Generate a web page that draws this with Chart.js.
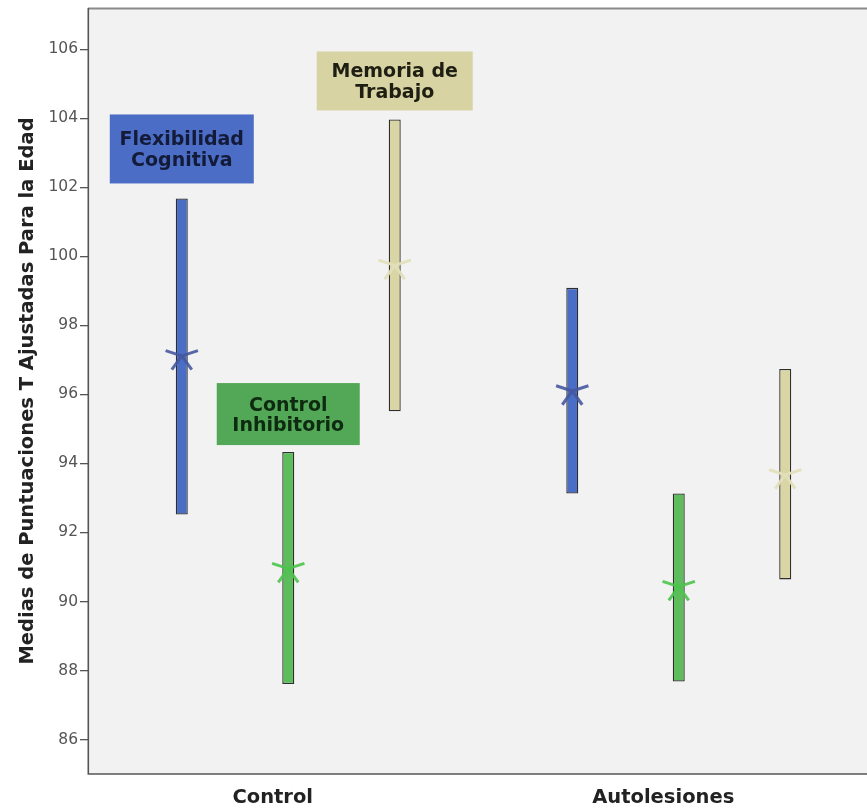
<!DOCTYPE html>
<html>
<head>
<meta charset="utf-8">
<script src="https://cdn.jsdelivr.net/npm/chart.js@4.4.0/dist/chart.umd.min.js"></script>
<style>
  html, body { margin: 0; padding: 0; background: #ffffff; overflow: hidden; }
  #wrap { position: relative; width: 876px; height: 811px; }
</style>
</head>
<body>
<div id="wrap"><canvas id="c"></canvas></div>
<script>
// ---- data ----
const categories = ['Control', 'Autolesiones'];
const seriesNames = ['Flexibilidad Cognitiva', 'Control Inhibitorio', 'Memoria de Trabajo'];
const flexLow   = [92.52, 93.13];
const flexHigh  = [101.68, 99.09];
const flexMean  = [97.12, 96.10];
const inhibLow  = [87.61, 87.68];
const inhibHigh = [94.33, 93.13];
const inhibMean = [90.95, 90.43];
const memLow    = [95.51, 90.64];
const memHigh   = [103.97, 96.74];
const memMean   = [99.74, 93.67];
const yTicks = [86, 88, 90, 92, 94, 96, 98, 100, 102, 104, 106];
const yTitle = 'Medias de Puntuaciones T Ajustadas Para la Edad';
const boxLines = [['Flexibilidad', 'Cognitiva'], ['Control', 'Inhibitorio'], ['Memoria de', 'Trabajo']];

// ---- styles ----
const barColors  = ['#4a6dc5', '#5cbd5a', '#d9d5a4'];
const starColors = ['rgba(70,88,160,0.9)', 'rgba(76,196,76,0.9)', 'rgba(226,223,186,0.95)'];
const boxColors  = ['#4b6dc6', '#53a857', '#d8d3a3'];
const boxText    = ['#131b38', '#0e2a10', '#1e1e12'];
const boxW = [144, 143, 156];
const boxH = [69, 62, 59];
const boxGap = [15, 7, 9];
const FONT = '"DejaVu Sans", "Liberation Sans", sans-serif';

const means = [flexMean, inhibMean, memMean];
const lows = [flexLow, inhibLow, memLow];
const highs = [flexHigh, inhibHigh, memHigh];

const datasets = seriesNames.map((name, i) => ({
  label: name,
  data: categories.map((c, j) => [lows[i][j], highs[i][j]]),
  backgroundColor: barColors[i],
  borderColor: '#2e2e2e',
  borderWidth: 1.3,
  borderSkipped: false,
  barPercentage: 0.1127,
  categoryPercentage: 0.818
}));

const framePlugin = {
  id: 'frame',
  beforeDraw(chart) {
    const { ctx, chartArea: a } = chart;
    ctx.save();
    ctx.fillStyle = '#f2f2f2';
    ctx.fillRect(88, a.top, a.right - 88 + 4, a.bottom - a.top);
    ctx.restore();
  },
  beforeDatasetsDraw(chart) {
    const { ctx, chartArea: a } = chart;
    ctx.save();
    ctx.fillStyle = '#f2f2f2';
    ctx.fillRect(89, a.top, a.left - 89 + 0.5, a.bottom - a.top);
    ctx.restore();
  },
  afterDatasetsDraw(chart) {
    const { ctx } = chart;
    const y = chart.scales.y;
    chart.data.datasets.forEach((ds, i) => {
      const meta = chart.getDatasetMeta(i);
      // mean markers (asterisks)
      meta.data.forEach((bar, j) => {
        const cx = bar.x;
        const cy = y.getPixelForValue(means[i][j]);
        const r = 17;
        ctx.save();
        ctx.strokeStyle = starColors[i];
        ctx.lineWidth = 3;
        [72, 144, 216, 288].forEach(deg => {
          const t = deg * Math.PI / 180;
          ctx.beginPath();
          ctx.moveTo(cx, cy);
          ctx.lineTo(cx + r * Math.sin(t), cy - r * Math.cos(t));
          ctx.stroke();
        });
        ctx.restore();
      });
      // label boxes above the Control bars
      const bar0 = meta.data[0];
      const topPx = y.getPixelForValue(Math.max(lows[i][0], highs[i][0]));
      const bx = bar0.x - boxW[i] / 2;
      const by = topPx - boxGap[i] - boxH[i];
      ctx.save();
      ctx.fillStyle = boxColors[i];
      ctx.fillRect(bx, by, boxW[i], boxH[i]);
      ctx.fillStyle = boxText[i];
      ctx.font = 'bold 19px ' + FONT;
      ctx.textAlign = 'center';
      ctx.textBaseline = 'middle';
      const cyb = by + boxH[i] / 2;
      ctx.fillText(boxLines[i][0], bar0.x, cyb - 8.5);
      ctx.fillText(boxLines[i][1], bar0.x, cyb + 12);
      ctx.restore();
    });
  },
  afterDraw(chart) {
    const { ctx, chartArea: a } = chart;
    ctx.save();
    ctx.strokeStyle = '#8a8a8a';
    ctx.lineWidth = 2;
    ctx.beginPath();
    ctx.moveTo(88, a.top + 0.5);
    ctx.lineTo(a.right + 4, a.top + 0.5);
    ctx.stroke();
    ctx.strokeStyle = '#555555';
    ctx.lineWidth = 1.6;
    ctx.beginPath();
    ctx.moveTo(88.3, a.top);
    ctx.lineTo(88.3, a.bottom);
    ctx.lineTo(a.right + 4, a.bottom);
    ctx.stroke();
    ctx.restore();
  }
};

new Chart(document.getElementById('c'), {
  type: 'bar',
  data: { labels: categories, datasets },
  options: {
    responsive: true,
    maintainAspectRatio: false,
    animation: false,
    layout: { padding: { top: 8, right: 2, left: 0, bottom: 0 } },
    plugins: { legend: { display: false }, tooltip: { enabled: false } },
    scales: {
      x: {
        type: 'category',
        offset: true,
        grid: { display: false, drawTicks: false },
        border: { display: false },
        afterFit(s) { s.height = 37; s.paddingLeft = 0; s.paddingRight = 0; },
        ticks: {
          color: '#222222',
          font: { family: FONT, size: 19.5, weight: 'bold' },
          padding: 12,
          labelOffset: -15.5,
          maxRotation: 0
        }
      },
      y: {
        min: 85,
        max: 107.2,
        afterFit(s) { s.width = 93; s.paddingTop = 0; s.paddingBottom = 0; },
        afterBuildTicks(s) { s.ticks = yTicks.map(v => ({ value: v })); },
        grid: { drawOnChartArea: false, tickLength: 13, color: '#555555', lineWidth: 1.3 },
        border: { display: false },
        ticks: {
          color: '#555555',
          font: { family: FONT, size: 15.5 },
          padding: 2
        },
        title: {
          display: true,
          text: yTitle,
          color: '#222222',
          font: { family: FONT, size: 19.5, weight: 'bold' },
          padding: { top: 16, bottom: 0 }
        }
      }
    }
  },
  plugins: [framePlugin]
});
</script>
</body>
</html>
